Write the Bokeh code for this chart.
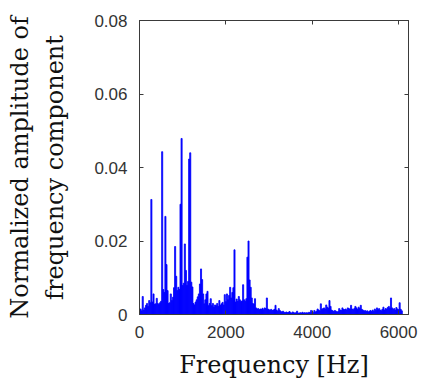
import numpy as np
from bokeh.plotting import figure
from bokeh.models import (LinearAxis, FixedTicker, CustomJSTickFormatter, Range1d,
                          ColumnDataSource, CustomLabelingPolicy)
from bokeh.embed import file_html
from bokeh.resources import INLINE

# Frequency bins [Hz] (25 Hz resolution)
freq_step = 25
freqs = np.arange(0, 6100, freq_step)

# Normalized amplitude (4 bins per 100 Hz)
amps = [
    0.0008, 0.0015, 0.0010, 0.0049,   # 0
    0.0012, 0.0018, 0.0025, 0.0030,   # 100
    0.0022, 0.0038, 0.0032, 0.0313,   # 200
    0.0034, 0.0056, 0.0028, 0.0029,   # 300
    0.0044, 0.0030, 0.0027, 0.0032,   # 400
    0.0036, 0.0443, 0.0068, 0.0060,   # 500
    0.0267, 0.0136, 0.0065, 0.0030,   # 600
    0.0032, 0.0056, 0.0038, 0.0047,   # 700
    0.0073, 0.0185, 0.0104, 0.0065,   # 800
    0.0074, 0.0068, 0.0300, 0.0479,   # 900
    0.0079, 0.0085, 0.0192, 0.0120,   # 1000
    0.0079, 0.0090, 0.0423, 0.0440,   # 1100
    0.0088, 0.0075, 0.0030, 0.0026,   # 1200
    0.0034, 0.0040, 0.0048, 0.0056,   # 1300
    0.0083, 0.0124, 0.0095, 0.0056,   # 1400
    0.0029, 0.0040, 0.0056, 0.0063,   # 1500
    0.0024, 0.0030, 0.0043, 0.0024,   # 1600
    0.0030, 0.0020, 0.0026, 0.0024,   # 1700
    0.0030, 0.0022, 0.0038, 0.0025,   # 1800
    0.0029, 0.0033, 0.0026, 0.0054,   # 1900
    0.0035, 0.0056, 0.0040, 0.0052,   # 2000
    0.0074, 0.0045, 0.0060, 0.0073,   # 2100
    0.0176, 0.0034, 0.0042, 0.0036,   # 2200
    0.0049, 0.0040, 0.0035, 0.0037,   # 2300
    0.0081, 0.0040, 0.0036, 0.0043,   # 2400
    0.0156, 0.0200, 0.0094, 0.0074,   # 2500
    0.0045, 0.0030, 0.0028, 0.0043,   # 2600
    0.0018, 0.0015, 0.0016, 0.0013,   # 2700
    0.0015, 0.0014, 0.0017, 0.0013,   # 2800
    0.0018, 0.0016, 0.0045, 0.0015,   # 2900
    0.0013, 0.0012, 0.0014, 0.0011,   # 3000
    0.0012, 0.0014, 0.0025, 0.0012,   # 3100
    0.0009, 0.0016, 0.0011, 0.0008,   # 3200
    0.0007, 0.0009, 0.0006, 0.0005,   # 3300
    0.0007, 0.0005, 0.0006, 0.0008,   # 3400
    0.0005, 0.0004, 0.0007, 0.0005,   # 3500
    0.0004, 0.0005, 0.0009, 0.0004,   # 3600
    0.0004, 0.0005, 0.0004, 0.0006,   # 3700
    0.0004, 0.0005, 0.0004, 0.0005,   # 3800
    0.0004, 0.0006, 0.0005, 0.0011,   # 3900
    0.0006, 0.0005, 0.0011, 0.0007,   # 4000
    0.0009, 0.0015, 0.0012, 0.0010,   # 4100
    0.0029, 0.0014, 0.0016, 0.0018,   # 4200
    0.0015, 0.0026, 0.0020, 0.0017,   # 4300
    0.0038, 0.0022, 0.0012, 0.0010,   # 4400
    0.0008, 0.0011, 0.0009, 0.0007,   # 4500
    0.0008, 0.0016, 0.0012, 0.0011,   # 4600
    0.0018, 0.0014, 0.0013, 0.0015,   # 4700
    0.0012, 0.0018, 0.0016, 0.0014,   # 4800
    0.0025, 0.0015, 0.0013, 0.0016,   # 4900
    0.0022, 0.0018, 0.0014, 0.0020,   # 5000
    0.0016, 0.0025, 0.0014, 0.0012,   # 5100
    0.0009, 0.0011, 0.0008, 0.0010,   # 5200
    0.0007, 0.0009, 0.0011, 0.0008,   # 5300
    0.0012, 0.0009, 0.0015, 0.0011,   # 5400
    0.0018, 0.0013, 0.0016, 0.0012,   # 5500
    0.0010, 0.0014, 0.0020, 0.0012,   # 5600
    0.0016, 0.0015, 0.0019, 0.0022,   # 5700
    0.0017, 0.0045, 0.0018, 0.0014,   # 5800
    0.0016, 0.0012, 0.0019, 0.0015,   # 5900
    0.0013, 0.0032, 0.0014, 0.0010,   # 6000
]

x_ticks = [0, 2000, 4000, 6000]
y_ticks = [0, 0.02, 0.04, 0.06, 0.08]
x_label = "Frequency [Hz]"
y_label = "Normalized amplitude of\nfrequency component"

source = ColumnDataSource(dict(f=freqs[:len(amps)], a=amps))

p = figure(width=432, height=383, output_backend="svg", toolbar_location=None,
           x_range=Range1d(0, 6230), y_range=Range1d(0, 0.08),
           min_border_left=139, min_border_right=8, min_border_top=20, min_border_bottom=69,
           background_fill_color="white", border_fill_color="white")

p.vbar(x="f", top="a", bottom=0, width=freq_step, source=source,
       fill_color="#0000FF", line_color="#0000FF", line_width=0.8)

p.xgrid.visible = False
p.ygrid.visible = False
p.outline_line_color = "#3a3a3a"
p.outline_line_width = 1

fmt_y = CustomJSTickFormatter(code="return tick == 0 ? '0' : tick.toFixed(2);")

for ax in p.xaxis:
    ax.ticker = FixedTicker(ticks=x_ticks)
    ax.axis_label = x_label
for ax in p.yaxis:
    ax.ticker = FixedTicker(ticks=y_ticks)
    ax.formatter = fmt_y
    ax.axis_label = y_label

for ax in list(p.xaxis) + list(p.yaxis):
    ax.major_tick_in = 4
    ax.major_tick_out = 0
    ax.minor_tick_in = 0
    ax.minor_tick_out = 0
    ax.axis_line_color = "#3a3a3a"
    ax.major_tick_line_color = "#3a3a3a"
    ax.major_label_text_font = "Liberation Sans"
    ax.major_label_text_font_size = "17px"
    ax.major_label_text_color = "#333333"
    ax.axis_label_text_font = "DejaVu Serif"
    ax.axis_label_text_font_size = "24px"
    ax.axis_label_text_font_style = "normal"
    ax.axis_label_text_color = "#111111"

p.xaxis.major_label_standoff = 11
p.xaxis.axis_label_standoff = 10
p.yaxis.major_label_standoff = 12
p.yaxis.axis_label_standoff = 22
p.yaxis.axis_label_text_line_height = 1.28

# mirrored axes (ticks only, no labels) on top and right
no_labels = CustomLabelingPolicy(code="""
    for (const i of indices) indices.unset(i)
    return indices
""")
top_ax = LinearAxis(ticker=FixedTicker(ticks=x_ticks), major_label_policy=no_labels,
                    major_label_standoff=0, major_tick_in=4, major_tick_out=0,
                    minor_tick_in=0, minor_tick_out=0, axis_line_color="#3a3a3a",
                    major_tick_line_color="#3a3a3a")
right_ax = LinearAxis(ticker=FixedTicker(ticks=y_ticks), major_label_policy=no_labels,
                      major_label_standoff=0, major_tick_in=4, major_tick_out=0,
                      minor_tick_in=0, minor_tick_out=0, axis_line_color="#3a3a3a",
                      major_tick_line_color="#3a3a3a")
p.add_layout(top_ax, "above")
p.add_layout(right_ax, "right")

open("out.html", "w").write(file_html(p, INLINE))
